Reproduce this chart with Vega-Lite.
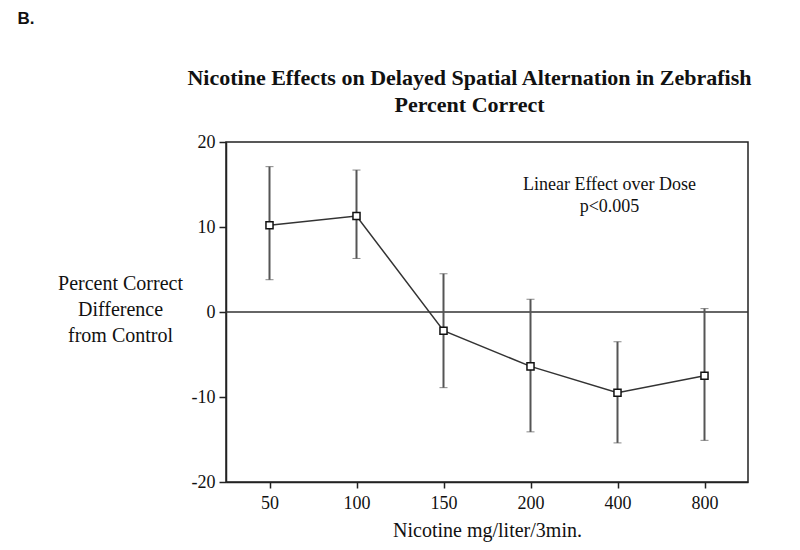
{
  "$schema": "https://vega.github.io/schema/vega-lite/v6.json",
  "autosize": {"type": "none"},
  "padding": {"left": 226, "top": 142, "right": 52, "bottom": 68},
  "width": 522,
  "height": 340,
  "background": "white",
  "config": {
    "font": "Liberation Serif",
    "view": {"stroke": "#222", "strokeWidth": 1.5},
    "axis": {
      "grid": false,
      "domainColor": "#222",
      "domainWidth": 1.5,
      "tickColor": "#222",
      "tickWidth": 1.5,
      "labelFont": "Liberation Serif",
      "labelFontSize": 18,
      "labelColor": "#111",
      "titleFont": "Liberation Serif",
      "titleFontSize": 20,
      "titleFontWeight": "normal",
      "titleColor": "#111"
    }
  },
  "resolve": {"axis": {"y": "independent"}, "scale": {"y": "shared"}},
  "data": {
    "values": [
      {"dose": "50", "mean": 10.2, "lo": 3.8, "hi": 17.1},
      {"dose": "100", "mean": 11.3, "lo": 6.3, "hi": 16.7},
      {"dose": "150", "mean": -2.2, "lo": -8.9, "hi": 4.5},
      {"dose": "200", "mean": -6.4, "lo": -14.1, "hi": 1.5},
      {"dose": "400", "mean": -9.5, "lo": -15.4, "hi": -3.5},
      {"dose": "800", "mean": -7.5, "lo": -15.1, "hi": 0.4}
    ]
  },
  "encoding": {
    "x": {
      "field": "dose",
      "type": "ordinal",
      "sort": ["50", "100", "150", "200", "400", "800"],
      "scale": {"type": "point", "padding": 0.5},
      "axis": {
        "title": "Nicotine mg/liter/3min.",
        "labelAngle": 0,
        "tickSize": 6,
        "labelPadding": 6,
        "titlePadding": 8
      }
    }
  },
  "layer": [
    {
      "mark": {"type": "point", "shape": "square", "size": 1, "opacity": 0},
      "encoding": {
        "y": {
          "field": "mean",
          "type": "quantitative",
          "scale": {"domain": [-20, 20], "nice": false},
          "axis": {
            "title": ["Percent Correct", "Difference", "from Control"],
            "orient": "left",
            "values": [-20, -10, 0, 10, 20],
            "labelExpr": "replace(datum.label, '\u2212', '-')",
            "tickSize": 7,
            "labelPadding": 4,
            "titleAngle": 0,
            "titleAlign": "center",
            "titleBaseline": "middle",
            "titleX": -106,
            "titleY": 141,
            "titleLineHeight": 26
          }
        }
      }
    },
    {
      "data": {"values": [{"zero": 0}]},
      "mark": {"type": "rule", "color": "#333", "strokeWidth": 1.5},
      "encoding": {"x": null, "y": {"field": "zero", "type": "quantitative", "axis": null}}
    },
    {
      "mark": {"type": "errorbar", "ticks": {"size": 8, "color": "#555", "strokeWidth": 2}, "rule": {"color": "#555", "strokeWidth": 2}},
      "encoding": {
        "y": {"field": "lo", "type": "quantitative", "axis": null},
        "y2": {"field": "hi"}
      }
    },
    {
      "mark": {"type": "line", "color": "#333", "strokeWidth": 1.5},
      "encoding": {
        "y": {"field": "mean", "type": "quantitative", "axis": null}
      }
    },
    {
      "mark": {"type": "point", "shape": "square", "size": 50, "filled": true, "fill": "white", "stroke": "#111", "strokeWidth": 1.5, "opacity": 1},
      "encoding": {
        "y": {"field": "mean", "type": "quantitative", "axis": null}
      }
    },
    {
      "data": {"values": [{"note": "Linear Effect over Dose"}]},
      "mark": {"type": "text", "font": "Liberation Serif", "fontSize": 18, "color": "#111", "align": "center", "baseline": "alphabetic", "lineHeight": 22, "dx": -8},
      "encoding": {
        "x": {"datum": "400"},
        "y": {"datum": 14.35, "type": "quantitative", "axis": null},
        "text": {"value": ["Linear Effect over Dose", "p<0.005"]}
      }
    },
    {
      "data": {"values": [{"note": "title"}]},
      "mark": {"type": "text", "font": "Liberation Serif", "fontSize": 22, "fontWeight": "bold", "color": "#111", "align": "center", "baseline": "alphabetic", "lineHeight": 27, "dx": 26, "dy": -57},
      "encoding": {
        "x": {"datum": "150"},
        "y": {"datum": 20, "type": "quantitative", "axis": null},
        "text": {"value": ["Nicotine Effects on Delayed Spatial Alternation in Zebrafish", "Percent Correct"]}
      }
    },
    {
      "data": {"values": [{"note": "panel"}]},
      "mark": {"type": "text", "font": "Liberation Sans", "fontSize": 17, "fontWeight": "bold", "color": "#111", "align": "left", "baseline": "alphabetic", "dx": -252, "dy": -118},
      "encoding": {
        "x": {"datum": "50"},
        "y": {"datum": 20, "type": "quantitative", "axis": null},
        "text": {"value": "B."}
      }
    }
  ]
}
